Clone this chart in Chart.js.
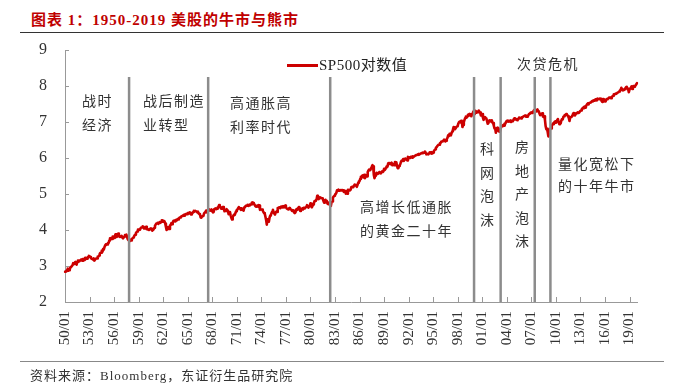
<!DOCTYPE html>
<html>
<head>
<meta charset="utf-8">
<script src="https://cdn.jsdelivr.net/npm/chart.js@4.4.1/dist/chart.umd.min.js"></script>
<style>
body{margin:0;width:674px;height:388px;background:#fff;position:relative;overflow:hidden;font-family:"Liberation Serif","Noto Sans CJK SC",serif;}
#title{position:absolute;left:31px;top:8px;font-size:15px;font-weight:bold;color:#c00000;letter-spacing:1px;white-space:nowrap;}
.rule{position:absolute;left:20px;width:644px;}
#wrap{position:absolute;left:0;top:0;width:674px;height:388px;}
.note{position:absolute;font-size:14px;letter-spacing:1.5px;color:#333;line-height:24px;white-space:nowrap;}
.vnote{position:absolute;font-size:14px;color:#333;line-height:23.5px;width:16px;text-align:center;}
#legend{position:absolute;left:287px;top:53px;font-size:15px;color:#222;white-space:nowrap;letter-spacing:0.5px;}
#legend i{display:inline-block;width:31px;height:3px;background:#cc0000;vertical-align:middle;margin-right:1px;position:relative;top:-1px;}
#source{position:absolute;left:30px;top:365px;font-size:13px;color:#333;letter-spacing:1px;white-space:nowrap;}
</style>
</head>
<body>
<div id="title">图表 1：1950-2019 美股的牛市与熊市</div>
<div class="rule" style="top:32px;border-top:1.5px solid #333;"></div>
<div id="wrap"><canvas id="chart" width="674" height="388"></canvas></div>
<div id="legend"><i></i>SP500对数值</div>

<div class="note" style="left:82px;top:90px;">战时<br>经济</div>
<div class="note" style="left:143px;top:90px;">战后制造<br>业转型</div>
<div class="note" style="left:230px;top:92px;">高通胀高<br>利率时代</div>
<div class="note" style="left:360px;top:196px;">高增长低通胀<br>的黄金二十年</div>
<div class="note" style="left:517px;top:53px;">次贷危机</div>
<div class="note" style="left:558px;top:154px;line-height:22px;">量化宽松下<br>的十年牛市</div>
<div class="vnote" style="left:479px;top:138px;">科<br>网<br>泡<br>沫</div>
<div class="vnote" style="left:514px;top:136px;">房<br>地<br>产<br>泡<br>沫</div>

<div class="rule" style="top:361px;border-top:1.5px solid #888;"></div>
<div id="source">资料来源：Bloomberg，东证衍生品研究院</div>

<script>
// 月度 SP500 对数值（自然对数），1950/01 - 2019/12
let d1950s = [
  2.84, 2.85, 2.85, 2.89, 2.93, 2.87, 2.88, 2.91, 2.97, 2.97, 2.97, 3.02,
  3.08, 3.08, 3.06, 3.11, 3.07, 3.04, 3.11, 3.15, 3.15, 3.13, 3.13, 3.17,
  3.18, 3.15, 3.19, 3.15, 3.17, 3.22, 3.23, 3.22, 3.20, 3.20, 3.25, 3.28,
  3.27, 3.25, 3.23, 3.20, 3.20, 3.18, 3.21, 3.15, 3.15, 3.20, 3.21, 3.21,
  3.26, 3.26, 3.29, 3.34, 3.37, 3.37, 3.43, 3.40, 3.48, 3.46, 3.53, 3.58,
  3.60, 3.60, 3.60, 3.64, 3.64, 3.71, 3.77, 3.77, 3.78, 3.75, 3.82, 3.82,
  3.78, 3.81, 3.88, 3.88, 3.81, 3.85, 3.90, 3.86, 3.81, 3.82, 3.81, 3.84,
  3.80, 3.77, 3.79, 3.82, 3.86, 3.86, 3.87, 3.81, 3.75, 3.72, 3.73, 3.69,
  3.73, 3.71, 3.74, 3.77, 3.79, 3.81, 3.85, 3.87, 3.91, 3.94, 3.96, 4.01,
  4.01, 4.01, 4.02, 4.05, 4.07, 4.07, 4.10, 4.09, 4.04, 4.05, 4.07, 4.09
];
let d1960s = [
  4.02, 4.03, 4.01, 4.00, 4.02, 4.04, 4.02, 4.04, 3.98, 3.98, 4.02, 4.06,
  4.12, 4.15, 4.18, 4.18, 4.20, 4.17, 4.20, 4.22, 4.20, 4.23, 4.27, 4.27,
  4.23, 4.25, 4.24, 4.18, 4.09, 4.00, 4.06, 4.08, 4.03, 4.03, 4.13, 4.14,
  4.19, 4.16, 4.20, 4.25, 4.26, 4.24, 4.24, 4.28, 4.27, 4.30, 4.29, 4.32,
  4.34, 4.35, 4.37, 4.38, 4.39, 4.40, 4.42, 4.40, 4.43, 4.44, 4.44, 4.44,
  4.47, 4.47, 4.46, 4.49, 4.48, 4.43, 4.45, 4.47, 4.50, 4.53, 4.52, 4.53,
  4.53, 4.51, 4.49, 4.51, 4.46, 4.44, 4.43, 4.35, 4.34, 4.38, 4.39, 4.39,
  4.46, 4.46, 4.50, 4.54, 4.49, 4.51, 4.55, 4.54, 4.57, 4.54, 4.54, 4.57,
  4.52, 4.49, 4.50, 4.58, 4.59, 4.60, 4.58, 4.59, 4.63, 4.64, 4.69, 4.64,
  4.63, 4.59, 4.62, 4.64, 4.64, 4.58, 4.52, 4.56, 4.53, 4.58, 4.54, 4.52
];
let d1970s = [
  4.44, 4.49, 4.50, 4.40, 4.34, 4.29, 4.36, 4.40, 4.43, 4.42, 4.47, 4.52,
  4.56, 4.57, 4.61, 4.64, 4.60, 4.60, 4.56, 4.60, 4.59, 4.55, 4.54, 4.63,
  4.64, 4.67, 4.67, 4.68, 4.70, 4.67, 4.68, 4.71, 4.71, 4.71, 4.76, 4.77,
  4.75, 4.72, 4.71, 4.67, 4.65, 4.65, 4.68, 4.65, 4.69, 4.68, 4.56, 4.58,
  4.57, 4.57, 4.54, 4.50, 4.47, 4.45, 4.37, 4.28, 4.15, 4.30, 4.25, 4.23,
  4.34, 4.40, 4.42, 4.47, 4.51, 4.56, 4.49, 4.46, 4.43, 4.49, 4.51, 4.50,
  4.61, 4.60, 4.63, 4.62, 4.61, 4.65, 4.64, 4.63, 4.66, 4.63, 4.63, 4.68,
  4.63, 4.60, 4.59, 4.59, 4.57, 4.61, 4.59, 4.57, 4.57, 4.53, 4.55, 4.55,
  4.49, 4.47, 4.49, 4.57, 4.58, 4.56, 4.61, 4.64, 4.63, 4.53, 4.55, 4.57,
  4.60, 4.57, 4.62, 4.62, 4.60, 4.63, 4.64, 4.69, 4.69, 4.62, 4.66, 4.68
];
let d1980s = [
  4.74, 4.73, 4.63, 4.67, 4.71, 4.74, 4.80, 4.81, 4.83, 4.85, 4.95, 4.91,
  4.86, 4.88, 4.91, 4.89, 4.89, 4.88, 4.87, 4.81, 4.76, 4.80, 4.84, 4.81,
  4.79, 4.73, 4.72, 4.76, 4.72, 4.70, 4.67, 4.78, 4.79, 4.90, 4.93, 4.95,
  4.98, 5.00, 5.03, 5.10, 5.09, 5.12, 5.09, 5.10, 5.11, 5.10, 5.11, 5.11,
  5.10, 5.06, 5.07, 5.08, 5.01, 5.03, 5.01, 5.12, 5.11, 5.11, 5.10, 5.12,
  5.19, 5.20, 5.20, 5.19, 5.24, 5.26, 5.25, 5.24, 5.20, 5.25, 5.31, 5.35,
  5.36, 5.42, 5.48, 5.46, 5.51, 5.52, 5.46, 5.53, 5.44, 5.50, 5.52, 5.49,
  5.61, 5.65, 5.68, 5.66, 5.67, 5.72, 5.76, 5.80, 5.77, 5.53, 5.44, 5.51,
  5.55, 5.59, 5.56, 5.57, 5.57, 5.61, 5.61, 5.57, 5.61, 5.63, 5.61, 5.63,
  5.70, 5.67, 5.69, 5.74, 5.77, 5.76, 5.85, 5.86, 5.86, 5.83, 5.85, 5.87
];
let d1990s = [
  5.80, 5.80, 5.83, 5.80, 5.89, 5.88, 5.88, 5.78, 5.72, 5.72, 5.78, 5.80,
  5.84, 5.91, 5.93, 5.93, 5.97, 5.92, 5.96, 5.98, 5.96, 5.97, 5.93, 6.03,
  6.01, 6.02, 6.00, 6.03, 6.03, 6.01, 6.05, 6.03, 6.04, 6.04, 6.07, 6.08,
  6.08, 6.09, 6.11, 6.09, 6.11, 6.11, 6.11, 6.14, 6.13, 6.15, 6.14, 6.15,
  6.18, 6.15, 6.10, 6.11, 6.12, 6.10, 6.13, 6.16, 6.14, 6.16, 6.12, 6.13,
  6.15, 6.19, 6.22, 6.24, 6.28, 6.30, 6.33, 6.33, 6.37, 6.37, 6.41, 6.42,
  6.46, 6.46, 6.47, 6.48, 6.51, 6.51, 6.46, 6.48, 6.53, 6.56, 6.63, 6.61,
  6.67, 6.67, 6.63, 6.69, 6.74, 6.79, 6.86, 6.80, 6.85, 6.82, 6.86, 6.88,
  6.89, 6.96, 7.00, 7.01, 6.99, 7.03, 7.02, 6.86, 6.92, 7.00, 7.06, 7.11,
  7.15, 7.12, 7.16, 7.20, 7.17, 7.22, 7.19, 7.19, 7.16, 7.22, 7.24, 7.29
];
let d2000s = [
  7.24, 7.22, 7.31, 7.28, 7.26, 7.28, 7.27, 7.32, 7.27, 7.26, 7.18, 7.19,
  7.22, 7.12, 7.06, 7.13, 7.14, 7.11, 7.10, 7.03, 6.95, 6.97, 7.04, 7.05,
  7.03, 7.01, 7.05, 6.98, 6.97, 6.90, 6.82, 6.82, 6.70, 6.79, 6.84, 6.78,
  6.75, 6.73, 6.74, 6.82, 6.87, 6.88, 6.90, 6.92, 6.90, 6.96, 6.96, 7.01,
  7.03, 7.04, 7.03, 7.01, 7.02, 7.04, 7.00, 7.01, 7.02, 7.03, 7.07, 7.10,
  7.07, 7.09, 7.07, 7.05, 7.08, 7.08, 7.12, 7.11, 7.11, 7.10, 7.13, 7.13,
  7.15, 7.15, 7.17, 7.18, 7.15, 7.15, 7.15, 7.17, 7.20, 7.23, 7.24, 7.26,
  7.27, 7.25, 7.26, 7.30, 7.33, 7.32, 7.28, 7.30, 7.33, 7.35, 7.30, 7.29,
  7.23, 7.19, 7.19, 7.23, 7.24, 7.15, 7.14, 7.16, 7.06, 6.88, 6.80, 6.81,
  6.72, 6.60, 6.68, 6.77, 6.82, 6.82, 6.90, 6.93, 6.96, 6.94, 7.00, 7.02
];
let d2010s = [
  6.98, 7.01, 7.06, 7.08, 6.99, 6.94, 7.00, 6.96, 7.04, 7.08, 7.07, 7.14,
  7.16, 7.19, 7.19, 7.22, 7.20, 7.19, 7.16, 7.11, 7.03, 7.13, 7.13, 7.14,
  7.18, 7.22, 7.25, 7.24, 7.18, 7.22, 7.23, 7.25, 7.27, 7.25, 7.26, 7.26,
  7.31, 7.32, 7.36, 7.38, 7.40, 7.38, 7.43, 7.40, 7.43, 7.47, 7.50, 7.52,
  7.49, 7.53, 7.53, 7.54, 7.56, 7.58, 7.57, 7.60, 7.59, 7.61, 7.63, 7.63,
  7.60, 7.65, 7.63, 7.64, 7.65, 7.63, 7.65, 7.59, 7.56, 7.64, 7.64, 7.62,
  7.57, 7.57, 7.63, 7.63, 7.65, 7.65, 7.68, 7.68, 7.68, 7.66, 7.70, 7.71,
  7.73, 7.77, 7.77, 7.78, 7.79, 7.79, 7.81, 7.81, 7.83, 7.85, 7.88, 7.89,
  7.95, 7.91, 7.88, 7.88, 7.90, 7.91, 7.94, 7.97, 7.98, 7.91, 7.92, 7.83,
  7.90, 7.93, 7.95, 7.99, 7.92, 7.99, 8.00, 7.98, 8.00, 8.02, 8.05, 8.08
];

let logValues = [].concat(d1950s, d1960s, d1970s, d1980s, d1990s, d2000s, d2010s);

let firstYear = 1950;
let labels = [];
for (let i = 0; i < logValues.length; i++) {
    let yy = (firstYear + Math.floor(i / 12)) % 100;
    let mm = i % 12 + 1;
    labels.push(String(yy).padStart(2, '0') + '/' + String(mm).padStart(2, '0'));
}

// 分段竖线所在月份
let breakMonths = ['57/11', '67/07', '82/06', '00/01', '03/04', '07/06', '09/05'];
let breakTop = 8.25;

let yTicks = [2, 3, 4, 5, 6, 7, 8, 9];
let labelEvery = 36;

let guides = {
    id: 'guides',
    afterDatasetsDraw(chart) {
        let ctx = chart.ctx;
        let x = chart.scales.x;
        let y = chart.scales.y;
        ctx.save();
        // 竖线
        ctx.strokeStyle = '#8c8c8c';
        ctx.lineWidth = 2.5;
        breakMonths.forEach(function (m) {
            let px = x.getPixelForValue(labels.indexOf(m));
            ctx.beginPath();
            ctx.moveTo(px, y.getPixelForValue(breakTop));
            ctx.lineTo(px, y.getPixelForValue(2));
            ctx.stroke();
        });
        // 内刻度
        ctx.strokeStyle = '#999';
        ctx.lineWidth = 1;
        yTicks.forEach(function (v) {
            let py = Math.round(y.getPixelForValue(v)) + 0.5;
            ctx.beginPath();
            ctx.moveTo(x.left, py);
            ctx.lineTo(x.left + 4, py);
            ctx.stroke();
        });
        for (let i = labelEvery; i < labels.length; i += labelEvery) {
            let px = Math.round(x.getPixelForValue(i)) + 0.5;
            ctx.beginPath();
            ctx.moveTo(px, y.bottom);
            ctx.lineTo(px, y.bottom - 5);
            ctx.stroke();
        }
        ctx.restore();
    }
};

let ctx = document.getElementById('chart').getContext('2d');
let chart = new Chart(ctx, {
    type: 'line',
    data: {
        labels: labels,
        datasets: [{
            label: 'SP500对数值',
            data: logValues,
            borderColor: '#cc0000',
            borderWidth: 2.6,
            borderJoinStyle: 'round',
            borderCapStyle: 'round',
            pointRadius: 0,
            tension: 0
        }]
    },
    options: {
        responsive: false,
        animation: false,
        layout: {
            padding: { left: 20, right: 37, top: 50, bottom: 36 }
        },
        plugins: {
            legend: { display: false },
            tooltip: { enabled: false }
        },
        scales: {
            x: {
                type: 'category',
                offset: false,
                grid: { display: false, drawTicks: false },
                border: { color: '#999', width: 1 },
                ticks: {
                    autoSkip: false,
                    maxRotation: 90,
                    minRotation: 90,
                    padding: 9,
                    color: '#333',
                    font: { family: 'Liberation Serif', size: 15 },
                    callback: function (v, i) {
                        return i % labelEvery === 0 ? labels[i] : null;
                    }
                },
                afterFit: function (s) { s.height = 50; }
            },
            y: {
                min: 2,
                max: 9,
                grid: { display: false, drawTicks: false },
                border: { color: '#999', width: 1 },
                ticks: {
                    stepSize: 1,
                    padding: 18,
                    color: '#333',
                    font: { family: 'Liberation Serif', size: 16 }
                },
                afterFit: function (s) { s.width = 45; }
            }
        }
    },
    plugins: [guides]
});
</script>
</body>
</html>
